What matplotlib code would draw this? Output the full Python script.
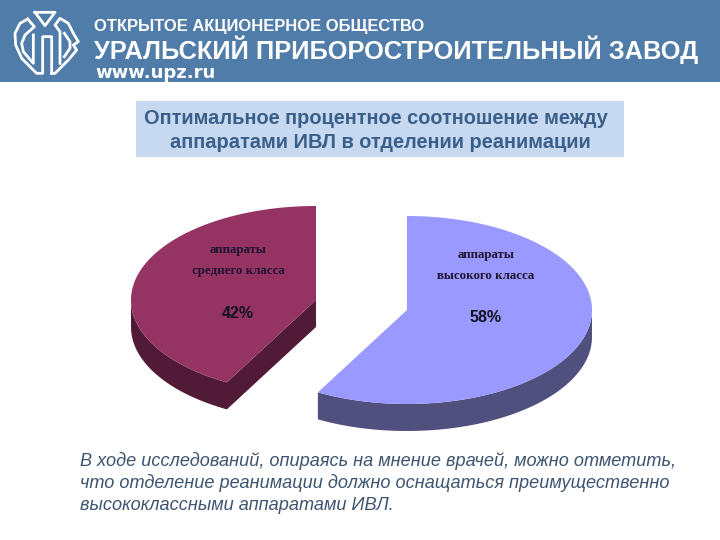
import numpy as np
import matplotlib
matplotlib.use("Agg")
import matplotlib.pyplot as plt
from matplotlib.patches import Polygon, Rectangle

# chart data
shares = [58, 42]
names = [["аппараты", "высокого класса"], ["аппараты", "среднего класса"]]
top_colors = ["#9999ff", "#953463"]
side_colors = ["#50507f", "#511b37"]

header_lines = ["ОТКРЫТОЕ АКЦИОНЕРНОЕ ОБЩЕСТВО", "УРАЛЬСКИЙ ПРИБОРОСТРОИТЕЛЬНЫЙ ЗАВОД", "www.upz.ru"]
title_lines = ["Оптимальное процентное соотношение между ", "аппаратами ИВЛ в отделении реанимации"]
note_lines = ["В ходе исследований, опираясь на мнение врачей, можно отметить,",
              "что отделение реанимации должно оснащаться преимущественно",
              "высококлассными аппаратами ИВЛ."]

logo_left = [(68,42),(45,55),(30,85),(32,120),(50,160),(95,205),(113,205),(113,95),(140,95),(140,205)]
logo_right = [(140,205),(150,205),(190,165),(215,135),(205,120),(220,110),(205,85),(190,55),(165,40),(150,60),(165,80),(165,175)]
logo_inner_l = [(68,42),(88,65),(60,90),(50,115),(55,140),(85,175),(85,90)]
logo_inner_r = [(178,85),(195,110),(195,130),(178,155)]
logo_tri = [(90,22),(150,22),(120,62),(90,22)]


def wedge_xy(cx, cy, start, share, rx=185, ry=94):
    # clockwise from 12 o'clock, squashed to look tilted
    t = np.radians(np.linspace(start, start + share * 3.6, 200))
    return cx + rx * np.sin(t), cy - ry * np.cos(t)


fig = plt.figure(figsize=(7.2, 5.4), dpi=100)
ax = fig.add_axes([0, 0, 1, 1])
ax.set_xlim(0, 720)
ax.set_ylim(540, 0)
ax.axis("off")

# header
ax.add_patch(Rectangle((0, 0), 720, 82, color="#4f7ca8", lw=0))
for pts in [logo_left, logo_right, logo_inner_l, logo_inner_r, logo_tri]:
    ax.plot([p[0] / 3 + 5 for p in pts], [p[1] / 3 + 5 for p in pts], color="white", lw=2.0, solid_joinstyle="round")
ax.text(94, 27, header_lines[0], color="white", fontsize=11.9, fontweight="bold", family="Liberation Sans", va="center")
ax.text(94, 50, header_lines[1], color="white", fontsize=18.3, fontweight="bold", family="Liberation Sans", va="center")
ax.text(95, 73, header_lines[2], color="white", fontsize=13.0, fontweight="bold", family="DejaVu Sans", va="center")

# title box
ax.add_patch(Rectangle((136, 101), 488, 56, color="#c6d9f0", lw=0))
ax.text(144, 118, title_lines[0], color="#3a5f8a", fontsize=14.4, fontweight="bold", family="Liberation Sans", va="center")
ax.text(380, 142, title_lines[1], color="#3a5f8a", fontsize=14.4, fontweight="bold", family="Liberation Sans", va="center", ha="center")

# pie pieces, blue one starts at 12 o'clock, red one fills the rest
centers = [(407, 310), (316, 300)]
starts = [0, shares[0] * 3.6]
depth = 27
for i in range(len(shares)):
    cx, cy = centers[i]
    x, y = wedge_xy(cx, cy, starts[i], shares[i])
    # wall under the arc
    t = np.radians(np.linspace(starts[i], starts[i] + shares[i] * 3.6, 200))
    front = np.cos(t) < 0
    if i == 0:
        wall_x = np.r_[x[front], x[front][::-1]]
        wall_y = np.r_[y[front], y[front][::-1] + depth]
    else:
        # red piece also shows its cut face down to the center
        fx, fy = np.r_[cx, x[front]], np.r_[cy, y[front]]
        wall_x = np.r_[fx, fx[::-1]]
        wall_y = np.r_[fy, fy[::-1] + depth]
    ax.add_patch(Polygon(np.c_[wall_x, wall_y], color=side_colors[i], lw=0))
    ax.add_patch(Polygon(np.c_[np.r_[cx, x], np.r_[cy, y]], color=top_colors[i], lw=0))

# slice labels
label_x = [486, 238]
label_y = [255, 250]
pct_y = [318, 314]
pct_x = [485, 238]
for i in range(len(shares)):
    ax.text(label_x[i], label_y[i], names[i][0], color="#1f1430", fontsize=9.3, fontweight="bold",
            family="Liberation Serif", ha="center", va="center")
    ax.text(label_x[i], label_y[i] + 21, names[i][1], color="#1f1430", fontsize=9.3, fontweight="bold",
            family="Liberation Serif", ha="center", va="center")
    ax.text(pct_x[i], pct_y[i], f"{shares[i]}%", color="#111122", fontsize=11.5, fontweight="bold",
            family="Liberation Sans", ha="center", va="center")

# note under the chart
for k, line in enumerate(note_lines):
    ax.text(80, 461 + k * 22, line, color="#3d5470", fontsize=13.1, style="italic", family="Liberation Sans", va="center")

fig.savefig("out.png", dpi=100)
